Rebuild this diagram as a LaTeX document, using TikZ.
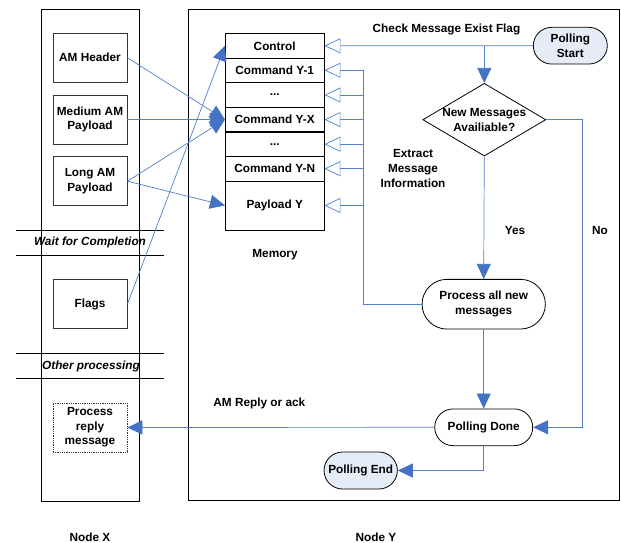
\documentclass[tikz,border=0pt]{standalone}
\usepackage{fontspec}
\setmainfont{Liberation Sans}
\usetikzlibrary{arrows.meta,shapes.geometric,shapes.misc}
\definecolor{lnblue}{RGB}{79,129,199}
\definecolor{arblue}{RGB}{68,114,196}
\definecolor{lightfill}{RGB}{230,236,247}
\begin{document}
\begin{tikzpicture}[x=1pt,y=-1pt,
  every node/.style={font=\bfseries\fontsize{11.8}{14.6}\selectfont, align=center, inner sep=0pt},
  frame/.style={draw=black, line width=0.9pt},
  xbox/.style={draw=black!80, line width=0.8pt, minimum width=74, minimum height=49},
  mem/.style={draw=black, line width=0.8pt, minimum width=98.7, minimum height=24.5},
  term/.style={rounded rectangle, draw=black, line width=0.8pt},
  conn/.style={draw=lnblue, line width=0.7pt},
  fa/.style={conn, -{Triangle[length=15pt,width=14pt,fill=arblue,color=arblue]}},
  oa/.style={conn, -{Triangle[open,length=16pt,width=15pt,fill=white,color=lnblue]}},
  sep/.style={draw=black, line width=0.7pt},
  septext/.style={font=\bfseries\itshape\fontsize{11.8}{14}\selectfont}
]
\useasboundingbox (0,0) rectangle (621,543);

% frames
\draw[frame] (41,9) rectangle (139,501);
\draw[frame] (188.3,9) rectangle (619,500.7);

% Node X boxes
\node[xbox] (amh) at (90,57.7) {AM Header};
\node[xbox] (med) at (90,119.5) {Medium AM\\Payload};
\node[xbox] (lng) at (90,181.2) {Long AM\\Payload};
\node[xbox] (flg) at (90,304.2) {Flags};
\node[xbox, densely dotted] (prm) at (90,427.5) {Process\\reply\\message};

% separators
\draw[sep] (16,230) -- (164,230);
\draw[sep] (16,255) -- (164,255);
\node[septext] (wfc) at (90,242.5) {Wait for Completion};
\draw[sep] (16,353.7) -- (164,353.7);
\draw[sep] (16,378) -- (164,378);
\node[septext] (oth) at (91,366) {Other processing};

% memory
\node[mem, minimum height=24.3] (ctrl) at (274.7,45.8) {Control};
\node[mem] (y1) at (274.7,70.3) {Command Y-1};
\node[mem] (d1) at (274.7,95) {...};
\node[mem] (yx) at (274.7,119.6) {Command Y-X};
\node[mem] (d2) at (274.7,144.2) {...};
\node[mem] (yn) at (274.7,168.7) {Command Y-N};
\node[mem, minimum height=49] (pay) at (274.7,205.5) {Payload Y};
\node (memlbl) at (275,255) {Memory};

% flowchart
\node[term, fill=lightfill, minimum width=74, minimum height=36.7] (ps) at (570.3,45.7) {Polling\\Start};
\node[diamond, draw=black, line width=0.8pt, minimum width=123, minimum height=72.7] (dia) at (484.3,119.7) {};
\node (diatxt) at (dia.center) {New Messages\\Availiable?};
\node[term, minimum width=123.3, minimum height=49.7] (pan) at (483.7,304.2) {Process all new\\messages};
\node[term, minimum width=98, minimum height=36.7] (pd) at (483.7,427.3) {Polling Done};
\node[term, fill=lightfill, minimum width=73.3, minimum height=37] (pe) at (360.7,470.5) {Polling End};

% labels
\node (chk) at (446.5,29) {Check Message Exist Flag};
\node (ext) at (413,168.5) {Extract\\Message\\Information};
\node (yes) at (515,230) {Yes};
\node (no) at (600,230) {No};
\node (rep) at (259.3,403) {AM Reply or ack};
\node (nx) at (90,537) {Node X};
\node (ny) at (376,537) {Node Y};

% connectors on the right
\draw[oa] (ps.west) -- (ctrl.east);
\draw[fa] (dia.north |- ps.west) -- (dia.north);
\coordinate (noc) at (582.7,119.7);
\draw[fa] (dia.east) -- (noc) |- (pd.east);
\draw[fa] (dia.south) -- (pan.north);
\draw[fa] (pan.south) -- (pd.north);
\draw[fa] (pd.south) |- (pe.east);
\draw[fa] (pd.west) -- (prm.east);

\coordinate (bus) at (363.3,70.3);
\draw[conn] (pan.west) -| (bus);
\foreach \n in {y1,d1,yx,d2,yn,pay} {
  \draw[oa] (bus |- \n.east) -- (\n.east);
}

% connectors on the left
\draw[fa] (amh.east) -- (yx.west);
\draw[fa] (med.east) -- (yx.west);
\draw[fa] (lng.east) -- (yx.west);
\draw[fa] (lng.east) -- (pay.west);
\draw[fa] (flg.east) -- (ctrl.west);
\end{tikzpicture}
\end{document}
